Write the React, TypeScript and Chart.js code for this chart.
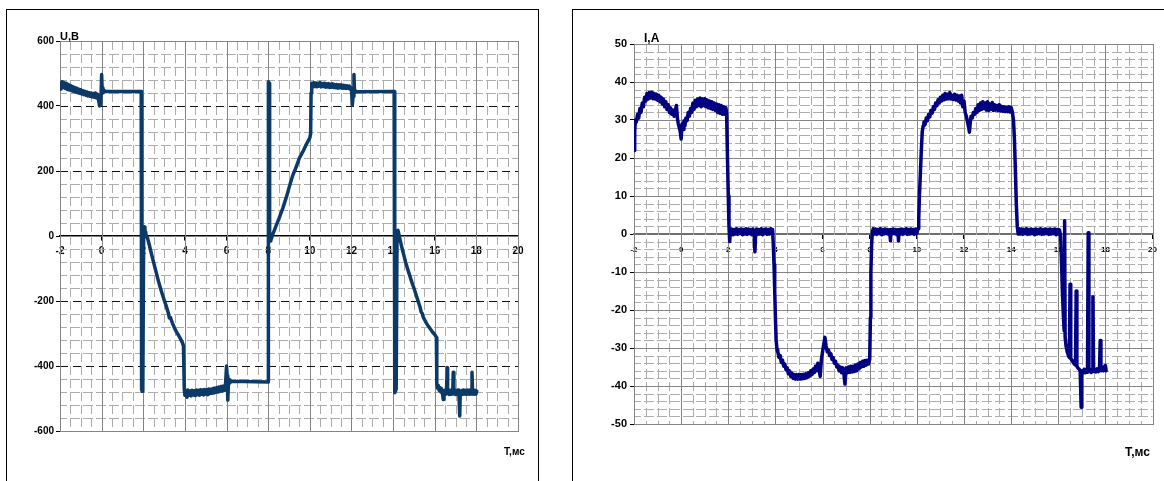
import React, { useEffect, useRef } from "react";
import { Chart, registerables } from "chart.js";
Chart.register(...registerables);

// ---------- Voltage chart (left) ----------
const uTime = [
  -2.0, -1.95, -1.9, -1.85, -1.8, -1.75, -1.7, -1.65, -1.6, -1.55, -1.5, -1.45, -1.4, -1.35, -1.3, -1.25, -1.2, -1.15, -1.1, -1.05,
  -1.0, -0.95, -0.9, -0.85, -0.8, -0.75, -0.7, -0.65, -0.6, -0.55, -0.5, -0.45, -0.4, -0.35, -0.3, -0.25, -0.2, -0.15, -0.1, -0.07,
  -0.04, 0.0, 0.03, 0.06, 0.1, 0.15, 0.2, 1.9, 1.92, 1.95, 1.98, 2.02, 2.05, 2.08, 2.11, 2.15, 2.2, 2.3, 2.4, 2.5,
  2.6, 2.7, 2.8, 2.9, 3.0, 3.1, 3.2, 3.25, 3.3, 3.4, 3.5, 3.6, 3.7, 3.8, 3.88, 3.93, 3.97, 4.0, 4.05, 4.1,
  4.15, 4.2, 4.25, 4.3, 4.35, 4.4, 4.45, 4.5, 4.55, 4.6, 4.65, 4.7, 4.75, 4.8, 4.85, 4.9, 4.95, 5.0, 5.05, 5.1,
  5.15, 5.2, 5.25, 5.3, 5.35, 5.4, 5.45, 5.5, 5.55, 5.6, 5.65, 5.7, 5.75, 5.8, 5.85, 5.9, 5.95, 6.0, 6.03, 6.06,
  6.09, 6.12, 6.16, 6.2, 8.0, 8.01, 8.04, 8.07, 8.1, 8.13, 8.16, 8.2, 8.3, 8.4, 8.5, 8.6, 8.7, 8.8, 8.9, 9.0,
  9.1, 9.2, 9.3, 9.4, 9.5, 9.6, 9.7, 9.8, 9.9, 10.0, 10.04, 10.06, 10.08, 10.1, 10.15, 10.2, 10.25, 10.3, 10.35, 10.4,
  10.45, 10.5, 10.55, 10.6, 10.65, 10.7, 10.75, 10.8, 10.85, 10.9, 10.95, 11.0, 11.05, 11.1, 11.15, 11.2, 11.25, 11.3, 11.35, 11.4,
  11.45, 11.5, 11.55, 11.6, 11.65, 11.7, 11.75, 11.8, 11.85, 11.9, 11.95, 12.0, 12.04, 12.08, 12.12, 12.15, 12.18, 12.22, 14.05, 14.08,
  14.12, 14.15, 14.19, 14.23, 14.27, 14.3, 14.35, 14.4, 14.5, 14.6, 14.7, 14.8, 14.9, 15.0, 15.1, 15.2, 15.3, 15.35, 15.4, 15.45,
  15.5, 15.6, 15.7, 15.8, 15.9, 16.0, 16.08, 16.1, 16.13, 16.17, 16.21, 16.25, 16.29, 16.33, 16.37, 16.41, 16.44, 16.48, 16.52, 16.56,
  16.6, 16.62, 16.66, 16.7, 16.74, 16.78, 16.82, 16.86, 16.89, 16.92, 16.96, 17.0, 17.04, 17.08, 17.12, 17.16, 17.2, 17.23, 17.27, 17.31,
  17.35, 17.39, 17.43, 17.47, 17.51, 17.55, 17.59, 17.63, 17.67, 17.71, 17.75, 17.79, 17.82, 17.86, 17.9, 17.94, 17.98, 18.02,
];
const uVolt = [
  468, 452, 475, 457, 472, 454, 470, 451, 466, 449, 463, 447, 460, 445, 457, 443, 455, 441, 452, 439,
  450, 437, 447, 435, 445, 433, 443, 431, 441, 430, 440, 428, 438, 427, 440, 425, 436, 420, 400, 428,
  405, 497, 440, 456, 443, 447, 445, 445, -472, -478, -462, 22, 28, 4, 14, -2, -5, -30, -57, -82,
  -107, -132, -155, -176, -196, -215, -236, -252, -250, -268, -283, -296, -306, -318, -328, -338, -472, -490, -476, -496,
  -474, -490, -477, -492, -475, -489, -476, -491, -474, -488, -475, -490, -473, -487, -474, -489, -472, -486, -473, -488,
  -471, -485, -472, -484, -469, -483, -468, -481, -466, -480, -465, -478, -463, -477, -462, -475, -458, -400, -430, -505,
  -455, -442, -452, -447, -449, 475, 470, -8, -15, 2, -8, 2, 18, 35, 50, 68, 85, 105, 125, 148,
  170, 190, 205, 222, 240, 252, 264, 278, 290, 302, 315, 440, 465, 470, 458, 472, 460, 471, 459, 470,
  461, 472, 459, 469, 460, 470, 458, 468, 459, 469, 457, 467, 458, 468, 457, 466, 456, 466, 455, 465,
  456, 465, 455, 464, 455, 463, 454, 462, 454, 461, 452, 455, 402, 430, 497, 440, 448, 444, 445, -482,
  -476, -470, 5, 18, 8, -2, -15, -30, -55, -80, -102, -122, -142, -160, -180, -200, -220, -234, -238, -250,
  -256, -268, -278, -287, -296, -303, -312, -455, -468, -460, -475, -466, -480, -470, -485, -503, -476, -488, -474, -486,
  -405, -484, -474, -488, -475, -487, -474, -486, -419, -485, -474, -488, -475, -487, -474, -486, -554, -478, -488, -475,
  -487, -474, -486, -475, -487, -474, -486, -475, -487, -474, -486, -419, -486, -474, -487, -475, -486, -478,
];

// ---------- Current chart (right) ----------
const iTime = [
  -2.0, -1.97, -1.94, -1.9, -1.85, -1.8, -1.75, -1.7, -1.65, -1.6, -1.55, -1.5, -1.45, -1.4, -1.35, -1.3, -1.25, -1.2, -1.15, -1.1,
  -1.05, -1.0, -0.95, -0.9, -0.85, -0.8, -0.75, -0.7, -0.65, -0.6, -0.55, -0.5, -0.45, -0.4, -0.35, -0.3, -0.25, -0.2, -0.16, -0.12,
  -0.08, -0.04, 0.0, 0.04, 0.08, 0.12, 0.16, 0.2, 0.25, 0.3, 0.35, 0.4, 0.45, 0.5, 0.55, 0.6, 0.65, 0.7, 0.75, 0.8,
  0.85, 0.9, 0.95, 1.0, 1.05, 1.1, 1.15, 1.2, 1.25, 1.3, 1.35, 1.4, 1.45, 1.5, 1.55, 1.6, 1.65, 1.7, 1.75, 1.8,
  1.85, 1.9, 1.93, 1.96, 2.0, 2.03, 2.06, 2.09, 2.1, 2.15, 2.2, 2.25, 2.3, 2.35, 2.4, 2.45, 2.5, 2.55, 2.6, 2.65,
  2.7, 2.75, 2.8, 2.85, 2.9, 2.95, 3.0, 3.05, 3.1, 3.13, 3.16, 3.2, 3.25, 3.3, 3.35, 3.4, 3.45, 3.5, 3.55, 3.6,
  3.65, 3.7, 3.75, 3.8, 3.85, 3.88, 3.91, 3.94, 3.97, 4.0, 4.03, 4.07, 4.1, 4.15, 4.2, 4.25, 4.3, 4.35, 4.4, 4.45,
  4.5, 4.55, 4.6, 4.65, 4.7, 4.75, 4.8, 4.85, 4.9, 4.95, 5.0, 5.05, 5.1, 5.15, 5.2, 5.25, 5.3, 5.35, 5.4, 5.45,
  5.5, 5.55, 5.6, 5.65, 5.7, 5.75, 5.8, 5.85, 5.9, 5.95, 6.0, 6.05, 6.1, 6.15, 6.2, 6.25, 6.3, 6.35, 6.4, 6.45,
  6.5, 6.55, 6.6, 6.65, 6.7, 6.75, 6.8, 6.85, 6.9, 6.95, 7.0, 7.05, 7.1, 7.15, 7.2, 7.25, 7.3, 7.35, 7.4, 7.45,
  7.5, 7.55, 7.6, 7.65, 7.7, 7.75, 7.8, 7.85, 7.9, 7.95, 8.0, 8.03, 8.05, 8.08, 8.11, 8.15, 8.2, 8.25, 8.3, 8.35,
  8.4, 8.45, 8.5, 8.55, 8.6, 8.65, 8.7, 8.75, 8.8, 8.85, 8.88, 8.91, 8.95, 9.0, 9.05, 9.1, 9.15, 9.2, 9.22, 9.25,
  9.3, 9.35, 9.4, 9.45, 9.5, 9.55, 9.6, 9.65, 9.7, 9.75, 9.8, 9.85, 9.9, 9.95, 10.0, 10.05, 10.08, 10.11, 10.15, 10.19,
  10.23, 10.27, 10.3, 10.35, 10.4, 10.45, 10.5, 10.55, 10.6, 10.65, 10.7, 10.75, 10.8, 10.85, 10.9, 10.95, 11.0, 11.05, 11.1, 11.15,
  11.2, 11.25, 11.3, 11.35, 11.4, 11.45, 11.5, 11.55, 11.6, 11.65, 11.7, 11.75, 11.8, 11.85, 11.9, 11.95, 12.0, 12.05, 12.1, 12.15,
  12.2, 12.23, 12.27, 12.3, 12.35, 12.4, 12.45, 12.5, 12.55, 12.6, 12.65, 12.7, 12.75, 12.8, 12.85, 12.9, 12.95, 13.0, 13.05, 13.1,
  13.15, 13.2, 13.25, 13.3, 13.35, 13.4, 13.45, 13.5, 13.55, 13.6, 13.65, 13.7, 13.75, 13.8, 13.85, 13.9, 13.95, 14.0, 14.05, 14.1,
  14.14, 14.18, 14.22, 14.26, 14.3, 14.35, 14.4, 14.45, 14.5, 14.55, 14.6, 14.65, 14.7, 14.75, 14.8, 14.85, 14.9, 14.95, 15.0, 15.05,
  15.1, 15.15, 15.2, 15.25, 15.3, 15.35, 15.4, 15.45, 15.5, 15.55, 15.6, 15.65, 15.7, 15.75, 15.8, 15.85, 15.9, 15.95, 16.0, 16.05,
  16.1, 16.14, 16.18, 16.22, 16.25, 16.27, 16.29, 16.33, 16.38, 16.43, 16.47, 16.5, 16.53, 16.58, 16.63, 16.68, 16.73, 16.76, 16.79, 16.84,
  16.89, 16.93, 16.97, 17.0, 17.05, 17.1, 17.15, 17.2, 17.24, 17.27, 17.3, 17.35, 17.4, 17.44, 17.47, 17.5, 17.55, 17.6, 17.65, 17.7,
  17.75, 17.78, 17.81, 17.86, 17.91, 17.96, 18.0, 18.03,
];
const iAmp = [
  22, 27, 30, 29.5, 31.5, 30.5, 33, 32, 34.5, 33.5, 36, 35, 37, 35.5, 37.2, 35.8, 37.3, 35.6, 37, 35.5,
  36.8, 35.2, 36.5, 34.8, 36, 34.2, 35.5, 33.5, 34.8, 32.8, 34, 32, 33.2, 31.5, 32.6, 31, 32.5, 33.8, 30.5, 29,
  28, 27, 25, 29, 27.5, 29.8, 28.5, 30.5, 29.8, 32, 31, 33, 32, 34.5, 32.8, 35.2, 33.5, 35.5, 33.8, 35.8,
  33.5, 35.5, 33.8, 35.6, 33.5, 35.3, 33.2, 35, 33, 34.8, 32.8, 34.5, 32.5, 34.2, 32, 34, 31.8, 33.8, 31.5, 33.5,
  31.5, 33.2, 31.5, 22, 10, 2, -2, 1, 0.2, 1.3, -0.2, 1.2, 0, 1.4, -0.1, 1.2, 0.1, 1.3, -0.2, 1.2,
  0, 1.4, -0.1, 1.3, 0.1, 1.2, -0.2, 1.3, 0, -4.7, 0.2, 1.3, -0.1, 1.2, 0, 1.4, -0.2, 1.2, 0.1, 1.3,
  -0.1, 1.2, 0, 1.4, 0.2, 1.2, -3, -8, -15, -22, -28, -30.5, -31, -32.5, -32, -33.8, -33.2, -34.8, -34.2, -35.8,
  -35.2, -36.8, -36, -37.5, -36.6, -38, -37, -38.2, -37, -38.2, -37, -38.2, -37, -38.1, -36.9, -38, -36.8, -37.8, -36.5, -37.4,
  -36, -37, -35.5, -36.5, -34.8, -36, -34, -35.5, -37.5, -33, -31, -29, -27.2, -29.5, -31, -30.5, -32, -31.5, -33, -32.5,
  -34, -33.5, -35, -34.5, -36, -35, -36.5, -35.2, -36.5, -39.5, -35.2, -36.5, -35, -36.4, -34.8, -36.3, -34.8, -36.2, -34.5, -36,
  -34.2, -35.5, -33.8, -35, -33.5, -34.8, -33.3, -34.5, -33.2, -34.2, -33, -22, -10, -3, 0.5, 1.4, 0, 1.3, -0.1, 1.2,
  0.1, 1.4, -0.2, 1.2, 0, 1.3, 0.1, 1.2, -0.1, 1.1, -1.8, 1.2, 0, 1.3, 0.1, 1.2, -0.2, 1.1, -1.8, 1.2,
  0, 1.3, -0.1, 1.2, 0.1, 1.4, -0.1, 1.2, 0, 1.3, 0.1, 1.2, -0.1, 1.3, 0.2, 1.4, 4, 10, 16, 22,
  27, 28.5, 29.5, 28.8, 30.5, 29.8, 31.5, 30.8, 32.5, 31.8, 33.5, 32.8, 34.5, 33.8, 35.3, 34.5, 36, 35, 36.5, 35.3,
  37, 35.5, 36.8, 35.6, 37.2, 35.5, 36.5, 35.4, 36.8, 35.3, 36.5, 35, 36.3, 34.5, 36.5, 33.5, 35, 32, 31, 29.5,
  28, 26.8, 29.5, 31, 30.5, 32, 31.5, 33, 32, 34, 32.5, 34.5, 32.8, 34.8, 33, 34.5, 32.6, 34.8, 32.5, 34.2,
  32.8, 34.6, 32.5, 34, 32.6, 33.8, 32.5, 34, 32.4, 33.6, 32.3, 33.5, 32.2, 33.4, 32.2, 33.5, 32.1, 33.3, 32.2, 30,
  25, 17, 8, 2, 0, 1.4, 0, 1.3, -0.1, 1.2, 0.1, 1.4, -0.1, 1.2, 0, 1.3, 0.1, 1.2, -0.2, 1.3,
  0, 1.2, 0.1, 1.4, -0.1, 1.2, 0, 1.3, 0.1, 1.2, -0.1, 1.3, 0, 1.2, 0.1, 1.3, -0.2, 1.2, 0, 1.1,
  -0.5, -8, -16, -22, -25.5, 3.5, -27, -29.5, -31, -32, -32.5, -13.2, -32.8, -33.2, -33.8, -34.2, -34.5, -15, -34.8, -35.3,
  -35.6, -36, -45.6, -36, -36.6, -35.6, -36.5, -35.7, -36.4, 0.3, -36.2, -35.6, -36.4, -35.7, -16.5, -36.2, -35.6, -36.3, -35.5, -36.2,
  -35.4, -28, -36, -35.3, -36, -34.8, -34.6, -36,
];

// axis settings
const timeMin = -2;
const timeMax = 20;
const uMin = -600;
const uMax = 600;
const iMin = -50;
const iMax = 50;

const FONT = "'Liberation Sans', Arial, sans-serif";

type GridCfg = {
  xMinor: number; xMajor: number; yMinor: number; yMajor: number;
  minorColor: string; majorVColor: string; majorHColor: string; majorHDash: number[];
  frameColor: string;
};

function gridPlugin(g: GridCfg) {
  return {
    id: "paperGrid",
    beforeDatasetsDraw(chart: any) {
      const { ctx, chartArea: a } = chart;
      const xs = chart.scales.x;
      const ys = chart.scales.y;
      const px = (v: number) => Math.round(xs.getPixelForValue(v)) + 0.5;
      const py = (v: number) => Math.round(ys.getPixelForValue(v)) + 0.5;
      const isMul = (v: number, m: number) => Math.abs(v / m - Math.round(v / m)) < 1e-6;
      const line = (x1: number, y1: number, x2: number, y2: number) => {
        ctx.beginPath();
        ctx.moveTo(x1, y1);
        ctx.lineTo(x2, y2);
        ctx.stroke();
      };
      const xVals: number[] = [];
      for (let k = 0; ; k++) {
        const v = xs.min + k * g.xMinor;
        if (v > xs.max + 1e-9) break;
        xVals.push(v);
      }
      const yVals: number[] = [];
      for (let k = 0; ; k++) {
        const v = ys.min + k * g.yMinor;
        if (v > ys.max + 1e-9) break;
        yVals.push(v);
      }
      ctx.save();
      ctx.lineWidth = 1;
      ctx.strokeStyle = g.minorColor;
      ctx.setLineDash([9, 4]);
      for (const v of xVals) if (!isMul(v, g.xMajor)) line(px(v), a.top, px(v), a.bottom);
      ctx.setLineDash([10, 3]);
      ctx.lineDashOffset = 3;
      for (const v of yVals) if (!isMul(v, g.yMajor)) line(a.left, py(v), a.right, py(v));
      ctx.lineDashOffset = 0;
      ctx.setLineDash([]);
      ctx.strokeStyle = g.majorVColor;
      for (const v of xVals) if (isMul(v, g.xMajor)) line(px(v), a.top, px(v), a.bottom);
      ctx.strokeStyle = g.majorHColor;
      ctx.setLineDash(g.majorHDash);
      for (const v of yVals) if (isMul(v, g.yMajor) && v !== 0) line(a.left, py(v), a.right, py(v));
      ctx.setLineDash([]);
      ctx.strokeStyle = g.frameColor;
      ctx.strokeRect(px(xs.min), py(ys.max), px(xs.max) - px(xs.min), py(ys.min) - py(ys.max));
      ctx.restore();
    },
  };
}

function labelsPlugin(items: { text: string; x: number; y: number; font: string }[]) {
  return {
    id: "axisNames",
    afterDraw(chart: any) {
      const ctx = chart.ctx;
      ctx.save();
      ctx.fillStyle = "#000";
      ctx.textBaseline = "alphabetic";
      ctx.textAlign = "left";
      for (const it of items) {
        ctx.font = it.font;
        ctx.fillText(it.text, it.x, it.y);
      }
      ctx.restore();
    },
  };
}

function makeConfig(opts: {
  times: number[]; values: number[]; color: string; lineWidth: number; yMin: number; yMax: number; yStep: number;
  yAxisWidth: number; padding: any; xFont: number; yFont: number; xPad: number; yPad: number;
  zeroColor: string; zeroWidth: number; grid: GridCfg; names: { text: string; x: number; y: number; font: string }[];
}) {
  const points = opts.times.map((t, i) => ({ x: t, y: opts.values[i] }));
  return {
    type: "line",
    data: {
      datasets: [
        {
          data: points,
          borderColor: opts.color,
          borderWidth: opts.lineWidth,
          borderJoinStyle: "round",
          borderCapStyle: "round",
          pointRadius: 0,
          tension: 0,
          fill: false,
        },
      ],
    },
    options: {
      animation: false,
      responsive: false,
      devicePixelRatio: 1,
      events: [],
      layout: { padding: opts.padding },
      plugins: { legend: { display: false }, tooltip: { enabled: false }, title: { display: false } },
      scales: {
        x: {
          type: "linear",
          min: timeMin,
          max: timeMax,
          position: { y: 0 },
          ticks: {
            stepSize: 2,
            autoSkip: false,
            maxRotation: 0,
            padding: opts.xPad,
            color: "#000",
            font: { family: FONT, weight: "bold", size: opts.xFont },
          },
          grid: { display: true, drawOnChartArea: false, drawTicks: true, tickLength: 4, tickColor: "#000" },
          border: { display: true, color: opts.zeroColor, width: opts.zeroWidth },
        },
        y: {
          type: "linear",
          min: opts.yMin,
          max: opts.yMax,
          afterFit: (s: any) => {
            s.width = opts.yAxisWidth;
          },
          ticks: {
            stepSize: opts.yStep,
            autoSkip: false,
            padding: opts.yPad,
            color: "#000",
            font: { family: FONT, weight: "bold", size: opts.yFont },
          },
          grid: { display: true, drawOnChartArea: false, drawTicks: true, tickLength: 4, tickColor: "#000" },
          border: { display: true, color: "#000", width: 1 },
        },
      },
    },
    plugins: [gridPlugin(opts.grid), labelsPlugin(opts.names)],
  };
}

function ChartCanvas({ config, left, top, width, height }: any) {
  const ref = useRef<HTMLCanvasElement>(null);
  useEffect(() => {
    const chart = new Chart(ref.current as HTMLCanvasElement, config() as any);
    return () => chart.destroy();
  }, []);
  return (
    <canvas
      ref={ref}
      width={width}
      height={height}
      style={{ position: "absolute", left, top, width, height, display: "block" }}
    />
  );
}

export default function App() {
  const leftConfig = () =>
    makeConfig({
      times: uTime,
      values: uVolt,
      color: "#0c3a68",
      lineWidth: 3.5,
      yMin: uMin,
      yMax: uMax,
      yStep: 200,
      yAxisWidth: 53,
      padding: { left: 0, top: 31, right: 20, bottom: 50 },
      xFont: 10,
      yFont: 10,
      xPad: 5,
      yPad: 2,
      zeroColor: "#000",
      zeroWidth: 1.5,
      grid: {
        xMinor: 0.5, xMajor: 2, yMinor: 40, yMajor: 200,
        minorColor: "#adadad", majorVColor: "#858585", majorHColor: "#111", majorHDash: [8, 5],
        frameColor: "#858585",
      },
      names: [
        { text: "U,В", x: 53, y: 30, font: `bold 11px ${FONT}` },
        { text: "Т,мс", x: 497, y: 445, font: `bold 10px ${FONT}` },
      ],
    });
  const rightConfig = () =>
    makeConfig({
      times: iTime,
      values: iAmp,
      color: "#000080",
      lineWidth: 3.5,
      yMin: iMin,
      yMax: iMax,
      yStep: 10,
      yAxisWidth: 61,
      padding: { left: 0, top: 34, right: 11, bottom: 57 },
      xFont: 8,
      yFont: 11,
      xPad: 7,
      yPad: 3,
      zeroColor: "#6e6e6e",
      zeroWidth: 2,
      grid: {
        xMinor: 0.5, xMajor: 2, yMinor: 2, yMajor: 10,
        minorColor: "#adadad", majorVColor: "#858585", majorHColor: "#858585", majorHDash: [],
        frameColor: "#858585",
      },
      names: [
        { text: "I,A", x: 71, y: 32, font: `bold 12px ${FONT}` },
        { text: "Т,мс", x: 552, y: 446, font: `bold 12px ${FONT}` },
      ],
    });

  return (
    <div
      style={{
        position: "absolute",
        left: 0,
        top: 0,
        width: 1164,
        height: 481,
        overflow: "hidden",
        background: "#fff",
      }}
    >
      <div style={{ position: "absolute", left: 6, top: 9, width: 533, height: 520, border: "1px solid #000", boxSizing: "border-box" }} />
      <div style={{ position: "absolute", left: 572, top: 9, width: 620, height: 520, border: "1px solid #000", boxSizing: "border-box" }} />
      <ChartCanvas config={leftConfig} left={7} top={10} width={531} height={471} />
      <ChartCanvas config={rightConfig} left={573} top={10} width={591} height={471} />
    </div>
  );
}
